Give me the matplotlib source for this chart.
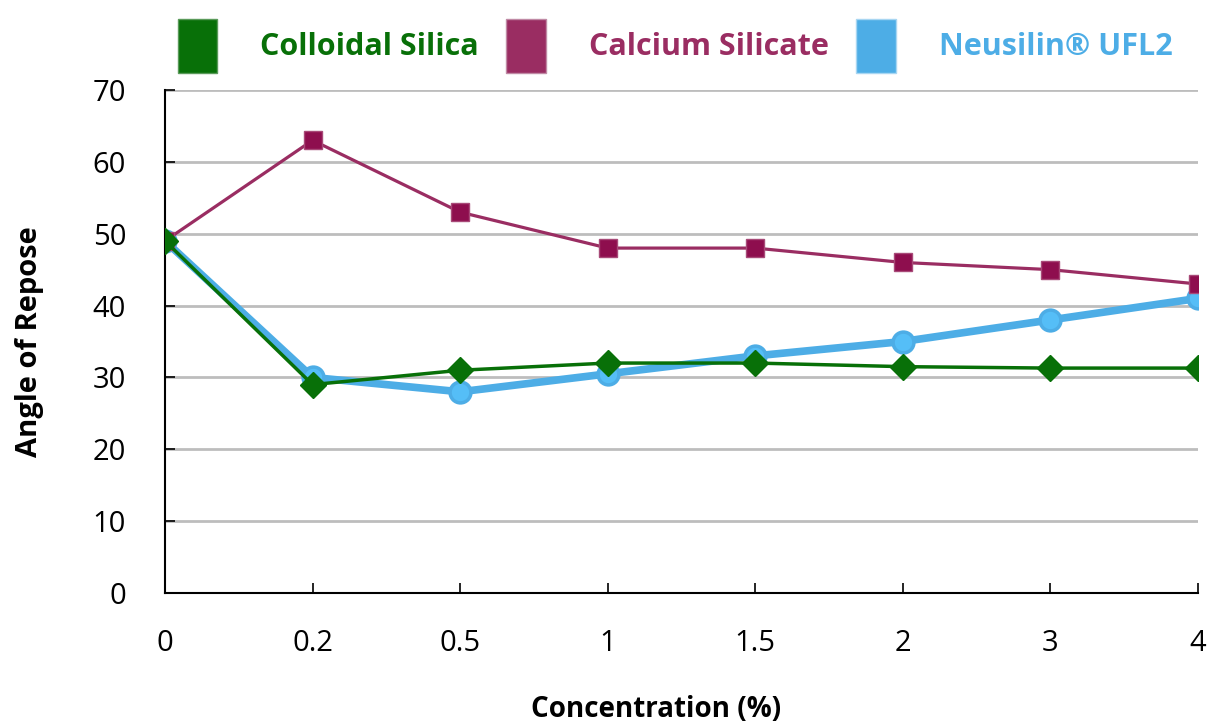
import matplotlib
matplotlib.use('Agg')
from matplotlib import pyplot as plt
from matplotlib.patches import Patch

plt.rcParams['font.family'] = ['Open Sans', 'DejaVu Sans']

# data
concentrations = ['0', '0.2', '0.5', '1', '1.5', '2', '3', '4']
colloidal_silica = [49, 29, 31, 32, 32, 31.5, 31.3, 31.3]
calcium_silicate = [49, 63, 53, 48, 48, 46, 45, 43]
neusilin = [49, 30, 28, 30.5, 33, 35, 38, 41]
y_ticks = [0, 10, 20, 30, 40, 50, 60, 70]

green = '#087008'
magenta = '#9a2d62'
blue = '#4dade6'

fig = plt.figure(figsize=(12.12, 7.27), dpi=100)
ax = fig.add_axes([165 / 1212, 1 - 593 / 727, (1198 - 165) / 1212, (593 - 90) / 727])

x = list(range(len(concentrations)))
ax.plot(x, neusilin, color=blue, lw=5.5, marker='o', ms=15,
        mfc='#55bef7', mec=blue, mew=2.5, zorder=3, solid_capstyle='round')
ax.plot(x, calcium_silicate, color=magenta, lw=2.3, marker='s', ms=13.5,
        mfc='#8e0e4e', mec='#a84a78', mew=1, zorder=4)
ax.plot(x, colloidal_silica, color=green, lw=2.5, marker='D', ms=13,
        mfc=green, mec=green, mew=1, zorder=5)

ax.set_xlim(0, len(concentrations) - 1)
ax.set_ylim(0, 70)
ax.set_xticks(x)
ax.set_xticklabels(concentrations)
ax.set_yticks(y_ticks)
ax.yaxis.grid(True, color='#bdbdbd', lw=2)
ax.set_axisbelow(True)
for s in ['top', 'right']:
    ax.spines[s].set_visible(False)
ax.spines['left'].set_linewidth(1.5)
ax.spines['bottom'].set_linewidth(1.5)
ax.tick_params(axis='both', direction='in', length=7, width=1.2, labelsize=21)
ax.tick_params(axis='y', pad=28)
ax.tick_params(axis='x', pad=26)

# x label sits at the very bottom of the figure
fig.text(656 / 1212, 3 / 727, 'Concentration (%)', fontsize=20, fontweight='bold',
         ha='center', va='bottom')
ax.set_ylabel('Angle of Repose', fontsize=21, fontweight='bold', labelpad=35)

handles = [Patch(facecolor=green, edgecolor='#5a9a5a'),
           Patch(facecolor=magenta, edgecolor='#c08aa5'),
           Patch(facecolor=blue, edgecolor='#a8d6f2')]
labels = ['Colloidal Silica', 'Calcium Silicate', 'Neusilin® UFL2']
leg = fig.legend(handles, labels, loc='center', bbox_to_anchor=(675 / 1212, 1 - 46 / 727),
                 ncol=3, frameon=False, fontsize=22, handlelength=1.3, handleheight=2.3,
                 handletextpad=1.4, columnspacing=0.9)
for t, c in zip(leg.get_texts(), [green, magenta, blue]):
    t.set_color(c)
    t.set_fontweight('bold')

fig.savefig('out.png', dpi=100)
